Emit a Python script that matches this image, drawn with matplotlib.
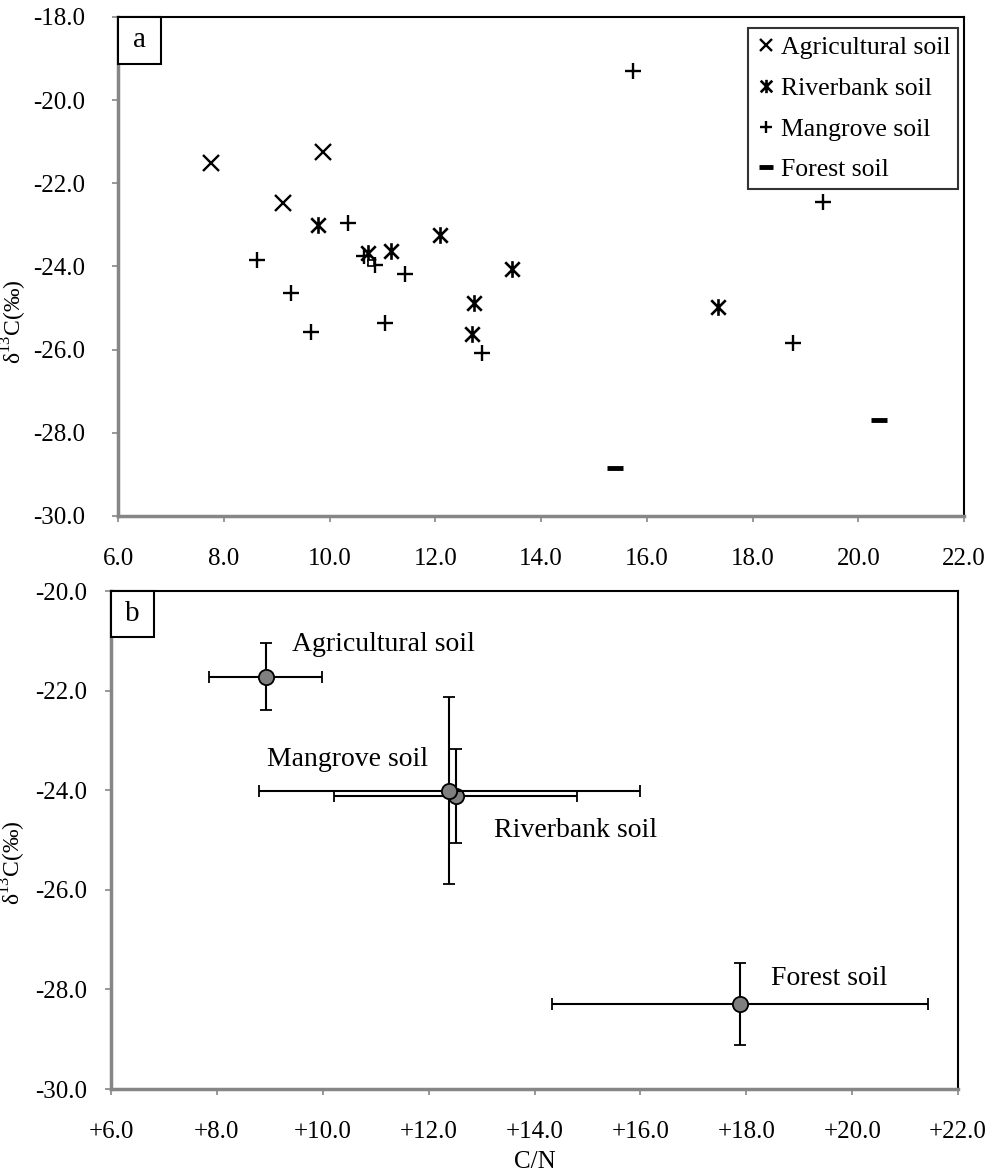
"""
Two-panel C/N vs d13C plot: (a) individual samples, (b) group means +/- SD.
"""

import matplotlib
matplotlib.use("Agg")
import matplotlib.pyplot as plt
from matplotlib.path import Path
from matplotlib.patches import Rectangle
import matplotlib.ticker as ticker

# ── data: panel a (individual samples) ───────────────────────────────────────
agri_cn    = [7.75, 9.88, 9.12]
agri_d13c  = [-21.50, -21.25, -22.47]

river_cn   = [9.78, 10.73, 11.16, 12.09, 13.45, 12.73, 12.69, 17.34]
river_d13c = [-23.00, -23.67, -23.62, -23.24, -24.06, -24.88, -25.62, -24.97]

mang_cn    = [10.35, 8.63, 10.65, 10.86, 11.43, 9.27, 9.65, 11.05, 12.88,
              15.74, 19.33, 18.76]
mang_d13c  = [-22.95, -23.84, -23.75, -23.96, -24.18, -24.63, -25.57, -25.36,
              -26.08, -19.30, -22.45, -25.84]

forest_cn   = [15.40, 20.40]
forest_d13c = [-28.84, -27.69]

odd_cn   = [10.78]
odd_d13c = [-23.91]

# ── data: panel b (group means and SD) ───────────────────────────────────────
groups     = ["Agricultural soil", "Riverbank soil", "Mangrove soil", "Forest soil"]
mean_cn    = [8.92, 12.51, 12.39, 17.88]
sd_cn      = [1.07, 2.30, 3.60, 3.56]
mean_d13c  = [-21.72, -24.12, -24.01, -28.29]
sd_d13c    = [0.67, 0.94, 1.88, 0.82]
label_xy   = [(9.42, -21.08), (13.23, -24.81), (8.95, -23.39), (18.46, -27.78)]

# ── style ────────────────────────────────────────────────────────────────────
GREY = "#868686"
plt.rcParams.update({
    "font.family"        : ["Liberation Serif", "DejaVu Serif"],
    "mathtext.fontset"   : "custom",
    "mathtext.rm"        : "Liberation Serif",
    "axes.unicode_minus" : False,
})

star = Path([(-1, -1), (1, 1), (-1, 1), (1, -1), (0, -1.15), (0, 1.15)],
            [Path.MOVETO, Path.LINETO, Path.MOVETO, Path.LINETO,
             Path.MOVETO, Path.LINETO])

fig = plt.figure(figsize=(9.95, 11.71), dpi=100)
ax1 = fig.add_axes([0.1186, 0.5594, 0.8503, 0.4261])
ax2 = fig.add_axes([0.1116, 0.0700, 0.8513, 0.4253])


def style_axes(ax, ypad):
    for side in ("top", "right"):
        ax.spines[side].set_color("black")
        ax.spines[side].set_linewidth(1.5)
    for side in ("left", "bottom"):
        ax.spines[side].set_color(GREY)
        ax.spines[side].set_linewidth(2.5)
    ax.tick_params(axis="both", direction="out", length=4, width=1.2,
                   color=GREY, labelsize=18, labelcolor="black")
    ax.tick_params(axis="x", pad=19)
    ax.tick_params(axis="y", pad=ypad)
    ax.set_xlim(6, 22)
    ax.xaxis.set_major_locator(ticker.MultipleLocator(2))
    ax.yaxis.set_major_locator(ticker.MultipleLocator(2))
    ax.yaxis.set_major_formatter(ticker.FormatStrFormatter("%.1f"))


def panel_tag(ax, letter, w, h):
    ax.add_patch(Rectangle((0, 1 - h), w, h, transform=ax.transAxes,
                           facecolor="white", edgecolor="black", lw=1.5,
                           zorder=5, clip_on=False))
    ax.text(w / 2, 1 - h / 2, letter, transform=ax.transAxes, fontsize=21,
            ha="center", va="center", zorder=6)


# ── panel a ──────────────────────────────────────────────────────────────────
style_axes(ax1, 20)
ax1.set_ylim(-30, -18)
ax1.xaxis.set_major_formatter(ticker.FormatStrFormatter("%.1f"))

ax1.plot(agri_cn, agri_d13c, "x", color="black", ms=11, mew=1.7,
         ls="none", label="Agricultural soil")
ax1.plot(river_cn, river_d13c, marker=star, color="black", ms=12, mew=1.9,
         ls="none", label="Riverbank soil")
ax1.plot(mang_cn, mang_d13c, "+", color="black", ms=11, mew=1.7,
         ls="none", label="Mangrove soil")
ax1.plot(forest_cn, forest_d13c, "_", color="black", ms=12, mew=3.5,
         ls="none", label="Forest soil")
ax1.plot(odd_cn, odd_d13c, "s", mfc="white", mec="black", ms=5, mew=1.2,
         ls="none")

leg = ax1.legend(loc="upper right", bbox_to_anchor=(0.993, 0.977),
                 fontsize=18.5, frameon=True, fancybox=False, borderpad=0.3,
                 handlelength=0.8, handletextpad=0.2, labelspacing=0.69,
                 markerscale=0.8, borderaxespad=0)
leg.get_frame().set_edgecolor("black")
leg.get_frame().set_linewidth(1.5)

ax1.set_ylabel("δ$^{13}$C(‰)", fontsize=17)
ax1.yaxis.set_label_coords(-0.105, 0.39)
panel_tag(ax1, "a", 0.051, 0.094)

# ── panel b ──────────────────────────────────────────────────────────────────
style_axes(ax2, 13)
ax2.set_ylim(-30, -20)
ax2.xaxis.set_major_formatter(ticker.FormatStrFormatter("%+.1f"))

for i in range(len(groups)):
    ax2.errorbar(mean_cn[i], mean_d13c[i], xerr=sd_cn[i], yerr=sd_d13c[i],
                 fmt="o", ms=11, mfc="#7f7f7f", mec="black", mew=1.3,
                 ecolor="black", elinewidth=1.5, capsize=4, capthick=1.5,
                 zorder=3 + i)
    ax2.text(label_xy[i][0], label_xy[i][1], groups[i], fontsize=20,
             ha="left", va="center")

ax2.set_ylabel("δ$^{13}$C(‰)", fontsize=17)
ax2.yaxis.set_label_coords(-0.098, 0.455)
ax2.set_xlabel("C/N", fontsize=18)
ax2.xaxis.set_label_coords(0.5, -0.125)
panel_tag(ax2, "b", 0.0505, 0.092)

fig.savefig("out.png", dpi=100)
